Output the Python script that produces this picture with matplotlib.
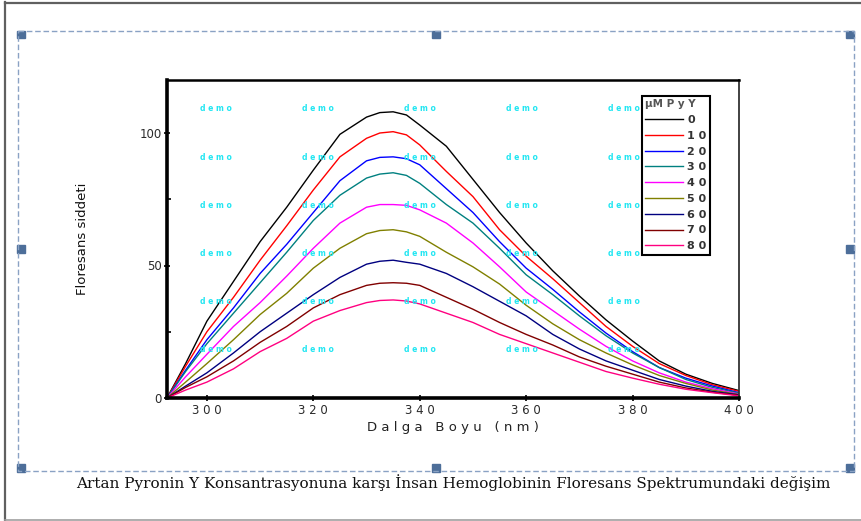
import matplotlib
matplotlib.use('Agg')
import matplotlib.pyplot as plt
from matplotlib.patches import Rectangle
from matplotlib.ticker import MultipleLocator

# emission spectra of Hb with increasing Pyronin Y (uM)
wl = [292.5, 296, 300, 305, 310, 315, 320, 325, 330, 332.5, 335, 337.5, 340,
      345, 350, 355, 360, 365, 370, 375, 380, 385, 390, 395, 400]

f0 = [0, 13, 29, 44, 59, 72, 86, 99.5, 106, 107.7, 108, 106.8, 103,
      95, 82.5, 70, 58.5, 48, 38.5, 29.5, 21.5, 14, 9, 5.5, 2.8]
f10 = [0, 12, 25, 38, 52, 65, 78.5, 91, 98, 100, 100.5, 99.3, 95.5,
       85.5, 76, 63.5, 53.5, 45, 36, 27, 19.5, 13, 8.5, 5, 2.5]
f20 = [0, 10.5, 22, 34, 47, 58, 70, 82, 89.5, 90.8, 91, 90.3, 88,
       79, 70, 59, 49, 41, 32.5, 24.5, 17.5, 11.5, 7.5, 4.5, 2]
f30 = [0, 10, 20.5, 32, 43.5, 55, 67, 76.5, 83, 84.5, 85, 84, 81,
       73, 66, 56.5, 46.5, 39, 31, 23.5, 17, 11.5, 7, 4, 1.8]
f40 = [0, 8, 16.5, 27, 36, 46, 56.5, 66, 72, 73, 73, 72.7, 71,
       66, 58.5, 49.5, 40, 33, 26, 19.5, 14, 9.5, 6, 3.5, 1.5]
f50 = [0, 6, 13, 22, 31.5, 39.5, 49, 56.5, 62, 63.2, 63.5, 62.7, 61,
       55, 49.5, 43, 35, 28, 22, 17, 12.5, 8.5, 5.5, 3, 1.3]
f60 = [0, 4.5, 9.5, 17, 25, 32, 39, 45.5, 50.5, 51.6, 52, 51.2, 50.5,
       47, 42, 36.5, 31, 24, 18.5, 14, 10.5, 7, 4.5, 2.5, 1.2]
f70 = [0, 4, 8, 14, 21, 27, 34, 39, 42.5, 43.3, 43.5, 43.3, 42.5,
       38, 33.5, 28.5, 24, 20, 15.5, 12, 9, 6, 3.8, 2.2, 1]
f80 = [0, 3, 6, 11, 17.5, 22.5, 29, 33, 36, 36.8, 37, 36.6, 35.5,
       32, 28.5, 24, 20.5, 17, 13.5, 10, 7.5, 5.2, 3.3, 2, 0.8]

series = [f0, f10, f20, f30, f40, f50, f60, f70, f80]
labels = ['0', '1 0', '2 0', '3 0', '4 0', '5 0', '6 0', '7 0', '8 0']
colors = ['black', '#ff0000', '#0000ff', '#008080', '#ff00ff',
          '#808000', '#000080', '#800000', '#ff0080']

caption = 'Artan Pyronin Y Konsantrasyonuna karşı İnsan Hemoglobinin Floresans Spektrumundaki değişim'

fig = plt.figure(figsize=(8.62, 5.21), dpi=100)

# page decoration: border, selection frame, handles, caption
ov = fig.add_axes([0, 0, 1, 1], zorder=-1)
ov.set_xlim(0, 862)
ov.set_ylim(521, 0)
ov.axis('off')
ov.plot([5, 5], [2, 521], color='#606060', lw=1.6)
ov.plot([5, 862], [2.5, 2.5], color='#606060', lw=1.6)
ov.plot([5, 862], [519.5, 519.5], color='#a0a0a0', lw=1.2)
fr = '#8aa2c4'
ov.plot([18, 854, 854, 18, 18], [31, 31, 471, 471, 31], color=fr, lw=1.0,
        linestyle=(0, (4, 2)))
hc = '#4d6e99'
for hx, hy in [(17.5, 30.5), (432, 30.5), (846, 30.5), (17.5, 245), (846, 245),
               (17.5, 464), (432, 464), (846, 464)]:
    ov.add_patch(Rectangle((hx, hy), 8, 7.5, color=hc))
ov.text(453.5, 483, caption, ha='center', va='center', fontsize=11.0,
        family='DejaVu Serif', color='#111111')

ax = fig.add_axes([167 / 862, 1 - 398 / 521, 572 / 862, 318 / 521])
for y, lab, c in zip(series, labels, colors):
    ax.plot(wl, y, color=c, lw=1.0, label=lab)

ax.set_xlim(292.5, 400)
ax.set_ylim(0, 120)
ax.set_xticks([300, 320, 340, 360, 380, 400])
ax.set_xticklabels(['3 0 0', '3 2 0', '3 4 0', '3 6 0', '3 8 0', '4 0 0'])
ax.set_yticks([0, 50, 100])
ax.yaxis.set_minor_locator(MultipleLocator(25))
ax.tick_params(axis='both', which='major', labelsize=8.5, labelcolor='#2a2a2a',
               direction='inout', length=5, width=1.2, pad=1.5)
ax.tick_params(axis='y', which='minor', direction='in', length=3, width=1.2)

ax.spines['left'].set_linewidth(2.6)
ax.spines['bottom'].set_linewidth(2.6)
ax.spines['top'].set_linewidth(1.8)
ax.spines['right'].set_linewidth(1.3)
ax.spines['right'].set_color('#333333')

ax.set_xlabel('D a l g a   B o y u   ( n m )', fontsize=9.5, color='#222222',
              labelpad=3)
ax.set_ylabel('Floresans siddeti', fontsize=9.5, color='#111111', labelpad=36)

# evaluation-copy watermark
for i in range(5):
    for j in range(6):
        ax.text(0.0857 + i * 0.1783, 0.909 - j * 0.1515, 'd e m o',
                transform=ax.transAxes, ha='center', va='center',
                fontsize=5.5, fontweight='bold', color='#22e6f2', zorder=5)

leg = ax.legend(loc='upper left', bbox_to_anchor=(0.830, 0.950),
                borderaxespad=0, title='µM P y Y', fontsize=8,
                title_fontsize=7.5, fancybox=False, framealpha=1,
                edgecolor='black', handlelength=3.4, handletextpad=0.4,
                labelspacing=0.52, borderpad=0.3, alignment='left')
leg.get_frame().set_linewidth(1.5)
leg.get_title().set_color('#555555')
leg.get_title().set_fontweight('bold')
leg.set_zorder(6)
for t in leg.get_texts():
    t.set_fontweight('bold')
    t.set_color('#333333')

fig.savefig('out.png', dpi=100)
